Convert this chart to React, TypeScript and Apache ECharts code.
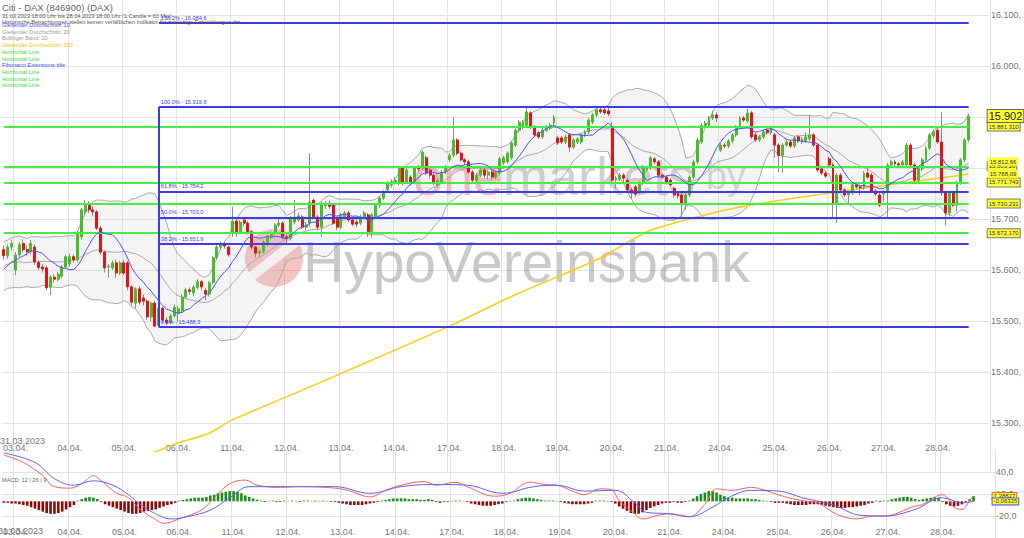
import React, { useEffect, useRef } from 'react';
import * as echarts from 'echarts';

const FONT = 'Liberation Sans, Arial, Helvetica, sans-serif';

const dayLabels = ['31.03.', '03.04.', '04.04.', '05.04.', '06.04.', '11.04.', '12.04.', '13.04.', '14.04.', '17.04.', '18.04.', '19.04.', '20.04.', '21.04.', '24.04.', '25.04.', '26.04.', '27.04.', '28.04.'];
const dayFirstHour = [19, 8, 8, 8, 8, 8, 8, 8, 8, 8, 8, 8, 8, 8, 8, 8, 8, 8, 8];
const dayLastHour = [21, 21, 21, 21, 21, 21, 21, 21, 21, 21, 21, 21, 21, 21, 21, 21, 21, 21, 16];
const emptySlots = 5;

// [open, close, low, high]
const candles: number[][] = [
  [15640, 15628, 15620, 15648], [15628, 15645, 15622, 15650], [15645, 15652, 15638, 15660],
  // 03.04
  [15600, 15629, 15590, 15635], [15630, 15650, 15625, 15655], [15652, 15640, 15635, 15660], [15640, 15636, 15628, 15648],
  [15636, 15652, 15630, 15659], [15645, 15616, 15610, 15650], [15615, 15605, 15600, 15620], [15606, 15602, 15595, 15612],
  [15604, 15565, 15560, 15608], [15566, 15586, 15551, 15590], [15586, 15582, 15575, 15592], [15582, 15592, 15578, 15596],
  [15588, 15606, 15584, 15610], [15606, 15626, 15602, 15630],
  // 04.04
  [15612, 15626, 15606, 15632], [15626, 15620, 15614, 15630], [15620, 15672, 15616, 15676], [15665, 15718, 15660, 15722],
  [15714, 15729, 15708, 15737], [15727, 15718, 15712, 15735], [15718, 15714, 15705, 15725], [15714, 15682, 15678, 15718],
  [15682, 15635, 15630, 15686], [15635, 15604, 15595, 15638], [15606, 15607, 15585, 15612], [15604, 15614, 15600, 15618],
  [15614, 15594, 15585, 15620], [15594, 15614, 15590, 15618],
  // 05.04
  [15614, 15594, 15590, 15620], [15614, 15567, 15560, 15618], [15567, 15537, 15530, 15570], [15535, 15563, 15525, 15566],
  [15563, 15537, 15532, 15568], [15545, 15539, 15530, 15552], [15539, 15508, 15502, 15542], [15508, 15535, 15500, 15538],
  [15535, 15490, 15488, 15540], [15492, 15525, 15489, 15530], [15525, 15502, 15496, 15528], [15502, 15497, 15492, 15508],
  [15497, 15510, 15494, 15514], [15510, 15527, 15506, 15532],
  // 06.04
  [15515, 15524, 15498, 15530], [15520, 15547, 15516, 15552], [15547, 15561, 15543, 15565], [15561, 15558, 15552, 15566],
  [15555, 15566, 15548, 15570], [15566, 15577, 15562, 15582], [15577, 15567, 15560, 15580], [15560, 15553, 15540, 15565],
  [15553, 15575, 15548, 15578], [15575, 15624, 15572, 15628], [15624, 15645, 15620, 15650], [15645, 15652, 15640, 15656],
  [15652, 15647, 15642, 15656], [15645, 15630, 15626, 15648],
  // 11.04
  [15672, 15696, 15665, 15724], [15696, 15675, 15665, 15702], [15675, 15694, 15670, 15698], [15698, 15692, 15686, 15702],
  [15692, 15675, 15670, 15696], [15675, 15645, 15640, 15678], [15645, 15633, 15624, 15648], [15633, 15636, 15625, 15640],
  [15636, 15655, 15632, 15658], [15650, 15665, 15646, 15668], [15665, 15673, 15660, 15676], [15673, 15688, 15668, 15692],
  [15688, 15692, 15684, 15700], [15692, 15665, 15660, 15696],
  // 12.04
  [15665, 15662, 15650, 15670], [15662, 15702, 15658, 15706], [15694, 15704, 15690, 15737], [15698, 15706, 15694, 15712],
  [15704, 15684, 15680, 15708], [15684, 15688, 15678, 15694], [15692, 15733, 15685, 15829], [15737, 15704, 15700, 15740],
  [15704, 15684, 15678, 15708], [15684, 15731, 15665, 15734], [15726, 15730, 15720, 15735], [15731, 15725, 15720, 15736],
  [15727, 15692, 15688, 15730], [15700, 15684, 15678, 15704],
  // 13.04
  [15684, 15708, 15680, 15712], [15704, 15712, 15700, 15716], [15712, 15698, 15694, 15716], [15698, 15690, 15686, 15702],
  [15694, 15690, 15684, 15698], [15692, 15704, 15688, 15708], [15704, 15712, 15700, 15716], [15708, 15675, 15665, 15712],
  [15675, 15708, 15663, 15712], [15704, 15727, 15700, 15730], [15727, 15741, 15722, 15745], [15741, 15753, 15737, 15757],
  [15757, 15770, 15752, 15774], [15767, 15773, 15762, 15778],
  // 14.04
  [15773, 15776, 15768, 15782], [15771, 15800, 15766, 15804], [15800, 15771, 15766, 15804], [15773, 15796, 15770, 15800],
  [15782, 15771, 15766, 15786], [15773, 15800, 15770, 15804], [15800, 15798, 15792, 15806], [15800, 15831, 15796, 15835],
  [15820, 15790, 15786, 15824], [15796, 15786, 15780, 15800], [15786, 15771, 15766, 15790], [15767, 15776, 15762, 15780],
  [15773, 15792, 15770, 15796], [15792, 15802, 15788, 15806],
  // 17.04
  [15816, 15825, 15812, 15829], [15825, 15855, 15821, 15900], [15855, 15829, 15825, 15859], [15829, 15816, 15812, 15833],
  [15816, 15812, 15806, 15820], [15812, 15792, 15788, 15816], [15792, 15776, 15770, 15796], [15776, 15786, 15772, 15790],
  [15786, 15796, 15782, 15800], [15796, 15786, 15780, 15800], [15786, 15792, 15778, 15796], [15792, 15782, 15776, 15796],
  [15782, 15790, 15778, 15794], [15790, 15818, 15786, 15822],
  // 18.04
  [15810, 15820, 15806, 15824], [15812, 15829, 15808, 15833], [15820, 15849, 15816, 15853], [15845, 15874, 15841, 15878],
  [15874, 15890, 15870, 15894], [15880, 15890, 15876, 15894], [15884, 15910, 15880, 15918], [15908, 15880, 15876, 15912],
  [15880, 15865, 15861, 15884], [15869, 15861, 15857, 15873], [15861, 15874, 15857, 15878], [15874, 15880, 15870, 15884],
  [15878, 15884, 15874, 15888], [15888, 15900, 15884, 15904],
  // 19.04
  [15859, 15849, 15845, 15863], [15859, 15851, 15847, 15863], [15851, 15861, 15847, 15865], [15865, 15841, 15831, 15869],
  [15841, 15855, 15837, 15859], [15851, 15857, 15847, 15861], [15851, 15865, 15847, 15869], [15865, 15871, 15861, 15875],
  [15871, 15894, 15867, 15898], [15890, 15904, 15886, 15908], [15904, 15914, 15900, 15920], [15914, 15910, 15906, 15920],
  [15914, 15908, 15904, 15918], [15912, 15906, 15902, 15919],
  // 20.04
  [15878, 15776, 15770, 15890], [15776, 15780, 15760, 15784], [15778, 15786, 15774, 15790], [15786, 15780, 15770, 15790],
  [15776, 15757, 15752, 15780], [15757, 15751, 15740, 15761], [15763, 15749, 15744, 15767], [15753, 15770, 15749, 15774],
  [15770, 15802, 15766, 15806], [15796, 15800, 15792, 15804], [15800, 15820, 15796, 15824], [15818, 15812, 15808, 15822],
  [15812, 15786, 15782, 15816], [15786, 15782, 15778, 15790],
  // 21.04
  [15782, 15772, 15768, 15786], [15776, 15767, 15762, 15780], [15760, 15747, 15742, 15764], [15750, 15745, 15740, 15754],
  [15747, 15731, 15700, 15751], [15731, 15747, 15718, 15751], [15747, 15782, 15743, 15786], [15782, 15812, 15778, 15816],
  [15812, 15855, 15808, 15859], [15851, 15884, 15847, 15888], [15884, 15888, 15880, 15892], [15884, 15898, 15880, 15902],
  [15898, 15904, 15894, 15912], [15904, 15898, 15890, 15910],
  // 24.04
  [15835, 15845, 15831, 15849], [15845, 15843, 15839, 15849], [15843, 15853, 15839, 15857], [15853, 15865, 15849, 15869],
  [15865, 15880, 15861, 15884], [15880, 15898, 15876, 15902], [15898, 15894, 15890, 15902], [15892, 15908, 15888, 15916],
  [15908, 15861, 15857, 15912], [15865, 15855, 15851, 15869], [15855, 15861, 15851, 15865], [15861, 15871, 15857, 15875],
  [15874, 15869, 15865, 15878], [15869, 15878, 15865, 15882],
  // 25.04
  [15865, 15845, 15820, 15869], [15845, 15825, 15792, 15849], [15825, 15845, 15790, 15849], [15845, 15851, 15841, 15855],
  [15851, 15843, 15839, 15855], [15843, 15859, 15839, 15863], [15861, 15853, 15849, 15865], [15851, 15857, 15847, 15861],
  [15853, 15861, 15849, 15870], [15857, 15865, 15853, 15904], [15865, 15845, 15841, 15869], [15845, 15796, 15792, 15849],
  [15798, 15790, 15786, 15802], [15790, 15784, 15780, 15794],
  // 26.04
  [15818, 15806, 15800, 15822], [15806, 15731, 15702, 15810], [15731, 15786, 15692, 15790], [15786, 15757, 15753, 15790],
  [15757, 15747, 15743, 15761], [15747, 15751, 15727, 15755], [15751, 15767, 15747, 15771], [15767, 15763, 15759, 15771],
  [15763, 15761, 15747, 15767], [15761, 15790, 15757, 15794], [15790, 15782, 15778, 15800], [15786, 15755, 15751, 15790],
  [15755, 15749, 15745, 15759], [15747, 15727, 15723, 15751],
  // 27.04
  [15749, 15753, 15735, 15757], [15755, 15806, 15704, 15810], [15806, 15812, 15802, 15816], [15812, 15808, 15804, 15816],
  [15808, 15806, 15802, 15812], [15806, 15812, 15802, 15816], [15806, 15845, 15802, 15849], [15845, 15806, 15802, 15849],
  [15806, 15776, 15772, 15810], [15776, 15800, 15772, 15804], [15798, 15816, 15794, 15820], [15816, 15839, 15812, 15843],
  [15839, 15865, 15835, 15869], [15863, 15871, 15859, 15875],
  // 28.04
  [15874, 15851, 15847, 15878], [15851, 15751, 15745, 15910], [15751, 15712, 15688, 15755], [15712, 15751, 15705, 15755],
  [15751, 15727, 15723, 15755], [15727, 15771, 15715, 15775], [15771, 15816, 15767, 15820], [15816, 15855, 15812, 15859],
  [15855, 15902, 15851, 15906],
];

// closes of the session before the visible window (feed the 10/20 averages at the left edge)
const priorCloses = [15570, 15590, 15610, 15640, 15655, 15650, 15630, 15615, 15600, 15580, 15570, 15585, 15600, 15595, 15605, 15590, 15600, 15615, 15625];

// [candle index, value]
const sma200Points = [[39, 15243], [45, 15261], [53, 15280], [59, 15306], [76, 15361], [94, 15420], [115, 15490], [133, 15555], [153, 15620], [166, 15675], [174, 15694], [189, 15722], [213, 15751], [249, 15788]];

const macdPoints = [[0, 63], [5, 53], [10, 35], [13, 20], [17, 18], [20, 24], [23, 35], [25, 28], [29, 11], [32, 5], [35, -11], [39, -25], [41, -30], [45, -24], [51, -11], [54, 5], [58, 24], [62, 29], [65, 22], [71, 19], [76, 20], [85, 18], [89, 14], [94, 6], [98, 15], [102, 22], [108, 27], [111, 22], [116, 26], [119, 20], [126, 7], [130, 11], [135, 26], [139, 23], [142, 22], [146, 14], [149, 9], [153, 17], [156, 16], [158, 1], [162, -17], [164, -24], [168, -19], [171, -17], [174, -19], [176, -21], [180, -4], [183, 17], [187, 15], [192, 19], [196, 14], [200, 7], [205, 1], [209, -2], [212, -12], [215, -20], [219, -24], [223, -20], [226, -20], [229, -17], [233, -8], [236, -4], [241, 9], [244, -8], [246, -11], [248, 1], [249, 7.4]];
const signalPoints = [[0, 66], [8, 53], [13, 31], [18, 22], [23, 28], [28, 22], [32, 9], [35, -4], [39, -17], [43, -24], [47, -21], [53, -12], [58, 5], [63, 20], [68, 20], [76, 20], [85, 20], [94, 11], [102, 20], [111, 23], [119, 22], [128, 11], [136, 20], [142, 22], [149, 14], [157, 15], [162, -2], [165, -15], [171, -17], [176, -21], [182, -8], [186, 5], [192, 15], [199, 14], [205, 5], [213, -5], [220, -19], [226, -20], [234, -11], [241, 5], [246, -2], [249, -0.1]];
const macdHist = [
  -2, -2, -3, -3, -4, -5, -6, -8, -10, -12, -14, -16, -17, -17, -16, -14, -11, -8, -5,
  1, 3, 5, 6, 5, 3, -1,
  -4, -6, -8, -10, -12, -14, -16, -17, -17, -16, -14, -13, -12, -11, -9, -7, -5, -4, -2,
  1, 2, 3, 4, 5, 5, 5, 6, 8, 9, 11, 12, 13, 14, 14, 13, 11, 8, 6, 4, 2, 1,
  -1, 0.6, 1, -1, -1, 1, 0.6, 1, 0.6, -1, 1, 1, 0.6, 1, 0.6, 1, 0.6, -1,
  -1, -2, -3, -4, -5, -5, -5, -5, -4, -3, -2, -1,
  1, 2, 3, 4, 4, 4, 4, 3, 3, 3, 2, 2, 3, 2,
  -1, -2, -1, -1, 0.6, 1, 1, 0.6,
  -1, -3, -4, -5, -6, -6, -6, -5, -4, -3, -1, 0.6,
  1, 3, 4, 5, 5, 4, 3, 2, 1, 1, 1, 0.6,
  -1, -2, -3, -4, -4, -4, -4, -3, -2,
  1, 1, 1, 0.6,
  -1, -3, -7, -10, -13, -16, -17, -17, -15, -12, -9, -7, -5, -3, -2, -2, -1, -2, -2, -1,
  1, 4, 7, 10, 12, 14, 14, 12, 9, 7, 5, 5, 4, 4, 4, 4, 3, 3, 2, 1, 0.6,
  -1, -2, -2, -2, -3, -4, -5, -5, -5, -5, -4, -4, -4, -5, -6, -7, -8, -9, -9, -9, -8, -8, -7, -6, -5, -3, -2,
  1, -1, 1,
  1, 3, 4, 5, 6, 6, 5, 3, 2, 3, 4, 5, 6, 5,
  -1, -4, -6, -7, -6, -4, -1,
  3, 7,
];

const fibLevels = [16084.6, 15919.8, 15754.2, 15703.0, 15651.9, 15488.3];
const fibLabels = ['138,2% - 16.084,6', '100,0% - 15.919,8', '61,8% - 15.754,2', '50,0% - 15.703,0', '38,2% - 15.651,9', '0,0% - 15.488,3'];
const fibStartIndex = 40;
const hLines = [15881.31, 15803.2, 15771.743, 15730.231, 15672.17];
const hLineLabels = ['15.881,310', '15.803,20', '15.771,743', '15.730,231', '15.672,170'];
const valueTags = [
  { v: 15812.66, t: '15.812,66' },
  { v: 15788.09, t: '15.788,09' },
];
const hiddenAxisTicks = [15900, 15800];
const lastPrice = 15902;
const lastPriceLabel = '15.902';
const macdTags = [
  { v: 7.38827, t: '7,38827', border: '#ff4d4d' },
  { v: -0.06335, t: '-0,06335', border: '#4d4dff' },
];

const legendLines = [
  { t: 'Gleitender Durchschnitt: 10', c: '#4848ff' },
  { t: 'Gleitender Durchschnitt: 20', c: '#9a9a9a' },
  { t: 'Bollinger Band: 20', c: '#9a9a9a' },
  { t: 'Gleitender Durchschnitt: 200', c: '#f0c000' },
  { t: 'Horizontal Line', c: '#33dd33' },
  { t: 'Horizontal Line', c: '#33dd33' },
  { t: 'Fibonacci Extensions.title', c: '#4848ff' },
  { t: 'Horizontal Line', c: '#33dd33' },
  { t: 'Horizontal Line', c: '#33dd33' },
  { t: 'Horizontal Line', c: '#33dd33' },
];

function fmtPrice(v: number) {
  if (hiddenAxisTicks.some((h) => Math.abs(h - v) < 0.5)) return '';
  const th = Math.floor(v / 1000);
  const rest = String(Math.round(v % 1000)).padStart(3, '0');
  return `${th}.${rest},`;
}

const INVISIBLE = { color: 'rgba(255,255,255,0)', width: 1, type: 'solid' };

function buildOption() {
  const categories: string[] = [];
  const dayStarts = new Set<number>();
  dayLabels.forEach((d, i) => {
    dayStarts.add(categories.length);
    for (let h = dayFirstHour[i]; h <= dayLastHour[i]; h++) categories.push(`${d} ${h}:00`);
  });
  for (let i = 0; i < emptySlots; i++) categories.push('');
  const showDay = (idx: number) => idx !== 0 && dayStarts.has(idx);

  const closes = candles.map((c) => c[1]);
  const all = [...priorCloses, ...closes];
  const off = priorCloses.length;
  const sma = (n: number) => closes.map((_, i) => {
    const j = i + off;
    const w = all.slice(Math.max(0, j - n + 1), j + 1);
    return w.reduce((a, b) => a + b, 0) / w.length;
  });
  const sma10 = sma(10);
  const sma20 = sma(20);
  const upper: number[] = [];
  const lower: number[] = [];
  closes.forEach((_, i) => {
    const j = i + off;
    const w = all.slice(Math.max(0, j - 19), j + 1);
    const m = sma20[i];
    const sd = Math.sqrt(w.reduce((a, b) => a + (b - m) * (b - m), 0) / w.length);
    upper.push(m + 2 * sd);
    lower.push(m - 2 * sd);
  });

  const lastIdx = candles.length - 1;
  const gridLeft = 1;
  const gridWidth = 994;
  // main price panel: 0.51 px per point, 15.700 at y = 219
  const mainTop = 0;
  const mainHeight = 474;
  const mainMin = 15200;
  const mainMax = mainMin + mainHeight / 0.51;

  const xAxisCommon = {
    type: 'category',
    data: categories,
    boundaryGap: true,
    axisLine: { show: false },
    axisTick: { show: false },
    splitLine: { show: true, interval: (i: number) => showDay(i), lineStyle: { color: '#e3e3e3', width: 1 } },
  };

  const lineMarks: any[] = [];
  hLines.forEach((v, i) => {
    lineMarks.push([
      { coord: [0, v], lineStyle: { color: '#44ee44', width: 2, type: 'solid' }, label: {
        show: true, position: 'end', distance: 19, formatter: hLineLabels[i], fontSize: 6, fontFamily: FONT, color: '#333',
        backgroundColor: '#ffff33', borderColor: '#777', borderWidth: 1, padding: [1, 1],
      } },
      { coord: [lastIdx, v] },
    ]);
  });
  fibLevels.forEach((v, i) => {
    lineMarks.push([
      { coord: [fibStartIndex, v], lineStyle: { color: '#3c3cee', width: 2, type: 'solid' }, label: {
        show: true, position: 'insideStartTop', distance: 2, formatter: fibLabels[i], fontSize: 5.6, fontFamily: FONT, color: '#3c3cee',
      } },
      { coord: [lastIdx, v] },
    ]);
  });
  lineMarks.push([
    { coord: [fibStartIndex, fibLevels[1]], lineStyle: { color: '#3c3cee', width: 2, type: 'solid' }, label: { show: false } },
    { coord: [fibStartIndex, fibLevels[5]] },
  ]);
  valueTags.forEach((tag) => {
    lineMarks.push([
      { coord: [0, tag.v], lineStyle: INVISIBLE, label: {
        show: true, position: 'end', distance: 19, formatter: tag.t, fontSize: 6, fontFamily: FONT, color: '#333',
        backgroundColor: '#ffff33', padding: [1, 2],
      } },
      { coord: [lastIdx, tag.v] },
    ]);
  });
  lineMarks.push([
    { coord: [0, lastPrice], lineStyle: INVISIBLE, label: {
      show: true, position: 'end', distance: 19, formatter: lastPriceLabel, fontSize: 11, fontFamily: FONT, color: '#222',
      backgroundColor: '#ffff33', borderColor: '#666', borderWidth: 1, padding: [1, 1, 0, 1],
    } },
    { coord: [lastIdx, lastPrice] },
  ]);

  const macdMarks = macdTags.map((tag) => [
    { coord: [0, tag.v], lineStyle: INVISIBLE, label: {
      show: true, position: 'end', distance: 19, formatter: tag.t, fontSize: 6, fontFamily: FONT, color: '#333',
      backgroundColor: '#ffff33', borderColor: tag.border, borderWidth: 1, padding: [0, 1],
    } },
    { coord: [lastIdx, tag.v] },
  ]);

  const small = (text: string, x: number, y: number, fill: string, size = 5.6) => ({
    type: 'text', x, y, z: 50,
    style: { text, fill, font: `${size}px ${FONT}`, textVerticalAlign: 'middle' },
  });

  const graphic: any[] = [
    // watermark
    { type: 'circle', shape: { cx: 274, cy: 258, r: 29 }, style: { fill: 'rgba(228,70,70,0.33)' }, z: 1 },
    { type: 'polygon', shape: { points: [[244, 276], [300, 232], [306, 240], [250, 284]] }, style: { fill: 'rgba(255,255,255,0.9)' }, z: 1 },
    {
      type: 'text', x: 413, y: 176, z: 1,
      style: {
        text: '{a|one}{b|markets}{c| by}', textVerticalAlign: 'middle',
        rich: {
          a: { fontSize: 54, fontFamily: FONT, fill: 'rgba(232,80,80,0.38)' },
          b: { fontSize: 54, fontFamily: FONT, fill: 'rgba(110,110,110,0.33)' },
          c: { fontSize: 38, fontFamily: FONT, fill: 'rgba(110,110,110,0.28)' },
        },
      },
    },
    {
      type: 'text', x: 303, y: 262, z: 1,
      style: { text: 'HypoVereinsbank', font: `57px ${FONT}`, fill: 'rgba(100,100,100,0.35)', textVerticalAlign: 'middle' },
    },
    // header
    { type: 'text', x: 2, y: 7, z: 50, style: { text: 'Citi - DAX (846900) (DAX)', fill: '#666', font: `9.5px ${FONT}`, textVerticalAlign: 'middle' } },
    small('31.03.2023 18:00 Uhr bis 28.04.2023 18:00 Uhr (1 Candle = 60 Min)', 2, 16, '#555'),
    small('Historische Betrachtungen stellen keinen verläßlichen Indikator für zukünftige Entwicklungen dar.', 2, 21.7, '#555'),
    ...legendLines.map((l, i) => small(l.t, 2, 25 + i * 6.7, l.c)),
    small('MACD: 12 | 26 | 9', 2, 480, '#666'),
    { type: 'text', x: 0, y: 441, z: 50, style: { text: '31.03.2023', fill: '#777', font: `9px ${FONT}`, textVerticalAlign: 'middle' } },
    { type: 'text', x: -2, y: 531, z: 50, style: { text: '31.03.2023', fill: '#777', font: `9px ${FONT}`, textVerticalAlign: 'middle' } },
  ];

  return {
    animation: false,
    backgroundColor: '#ffffff',
    grid: [
      { left: gridLeft, top: mainTop, width: gridWidth, height: mainHeight },
      { left: gridLeft, top: 450, width: gridWidth, height: 92 },
    ],
    xAxis: [
      { ...xAxisCommon, gridIndex: 0, axisLabel: { inside: true, margin: 22, interval: (i: number) => showDay(i), formatter: (v: string) => v.split(' ')[0], color: '#777', fontSize: 9, fontFamily: FONT } },
      { ...xAxisCommon, gridIndex: 1, axisLabel: { inside: true, margin: 2, interval: (i: number) => showDay(i), formatter: (v: string) => v.split(' ')[0], color: '#777', fontSize: 9, fontFamily: FONT } },
    ],
    yAxis: [
      {
        type: 'value', gridIndex: 0, position: 'right', min: mainMin, max: mainMax, interval: 100,
        axisLine: { show: false }, axisTick: { show: false },
        axisLabel: { margin: 1, color: '#777', fontSize: 9, fontFamily: FONT, formatter: fmtPrice, showMinLabel: false, showMaxLabel: false },
        splitLine: { show: true, showMinLine: false, showMaxLine: false, lineStyle: { color: '#e3e3e3' } },
      },
      {
        type: 'value', gridIndex: 1, position: 'right', min: -50, max: 70, interval: 30,
        axisLine: { show: false }, axisTick: { show: false },
        axisLabel: { margin: 1, color: '#777', fontSize: 9, fontFamily: FONT, formatter: (v: number) => v.toFixed(1).replace('.', ','), showMinLabel: false, showMaxLabel: false },
        splitLine: { show: true, showMinLine: false, showMaxLine: false, lineStyle: { color: '#e3e3e3' } },
      },
    ],
    graphic,
    series: [
      {
        name: 'BB lower', type: 'line', xAxisIndex: 0, yAxisIndex: 0, data: lower, stack: 'bb', symbol: 'none', z: 1,
        lineStyle: { color: '#a8a8a8', width: 1 }, silent: true,
      },
      {
        name: 'BB upper', type: 'line', xAxisIndex: 0, yAxisIndex: 0, data: upper.map((u, i) => u - lower[i]), stack: 'bb', symbol: 'none', z: 1,
        lineStyle: { color: '#a8a8a8', width: 1 }, areaStyle: { color: 'rgba(190,190,190,0.25)' }, silent: true,
      },
      {
        name: 'SMA 20', type: 'line', xAxisIndex: 0, yAxisIndex: 0, data: sma20, symbol: 'none', z: 2,
        lineStyle: { color: '#a8a8a8', width: 1 }, silent: true,
      },
      {
        name: 'SMA 200', type: 'line', xAxisIndex: 0, yAxisIndex: 0, data: sma200Points, symbol: 'none', smooth: 0.3, z: 2,
        lineStyle: { color: '#ffcc11', width: 1.5 }, silent: true,
      },
      {
        name: 'Wicks', type: 'candlestick', xAxisIndex: 0, yAxisIndex: 0, data: candles.map((c) => [c[0], c[1], c[2], c[3]]),
        barWidth: 1, z: 3, silent: true,
        itemStyle: { color: '#8c8c8c', color0: '#8c8c8c', borderColor: '#8c8c8c', borderColor0: '#8c8c8c', borderWidth: 1 },
        markLine: { silent: true, symbol: ['none', 'none'], animation: false, data: lineMarks },
      },
      {
        name: 'Candles', type: 'candlestick', xAxisIndex: 0, yAxisIndex: 0,
        data: candles.map((c) => [c[0], c[1], Math.min(c[0], c[1]), Math.max(c[0], c[1])]),
        barWidth: 2.4, z: 4, silent: true,
        itemStyle: { color: '#4cbb2a', color0: '#e01414', borderColor: '#4cbb2a', borderColor0: '#e01414', borderWidth: 1 },
      },
      {
        name: 'SMA 10', type: 'line', xAxisIndex: 0, yAxisIndex: 0, data: sma10, symbol: 'none', z: 5,
        lineStyle: { color: '#5050ff', width: 1 }, silent: true,
      },
      {
        name: 'Histogram', type: 'bar', xAxisIndex: 1, yAxisIndex: 1, data: macdHist, barWidth: 2.6, silent: true,
        itemStyle: { color: (p: any) => (p.value >= 0 ? '#1d8c1d' : '#8b0a0a') },
        markLine: { silent: true, symbol: ['none', 'none'], animation: false, data: macdMarks },
      },
      {
        name: 'MACD', type: 'line', xAxisIndex: 1, yAxisIndex: 1, data: macdPoints, symbol: 'none', smooth: 0.4, silent: true,
        lineStyle: { color: '#ff6060', width: 1 },
      },
      {
        name: 'Signal', type: 'line', xAxisIndex: 1, yAxisIndex: 1, data: signalPoints, symbol: 'none', smooth: 0.4, silent: true,
        lineStyle: { color: '#6060ff', width: 1 },
      },
    ],
  };
}

export default function App() {
  const ref = useRef<HTMLDivElement>(null);
  useEffect(() => {
    if (!ref.current) return;
    const chart = echarts.init(ref.current, null, { renderer: 'svg' });
    chart.setOption(buildOption() as any);
    return () => chart.dispose();
  }, []);
  return <div ref={ref} style={{ position: 'fixed', left: 0, top: 0, width: 1024, height: 538, background: '#fff' }} />;
}
